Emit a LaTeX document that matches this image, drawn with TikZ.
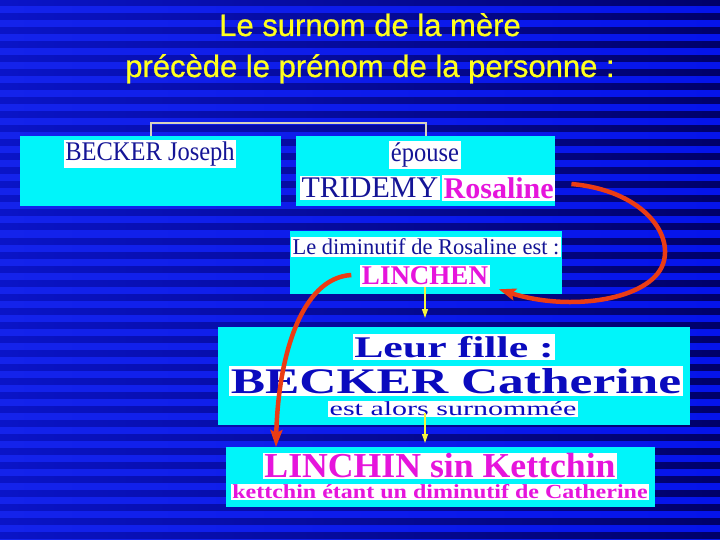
\documentclass[tikz,border=0pt]{standalone}
\usepackage{fontspec}
\setmainfont{Liberation Serif}
\newfontfamily\titlefont[FakeBold=0.8]{Liberation Sans}
\usetikzlibrary{arrows.meta}
\definecolor{cyanbox}{RGB}{0,245,250}
\definecolor{navytxt}{RGB}{20,20,150}
\definecolor{widenavy}{RGB}{10,10,190}
\definecolor{magtxt}{RGB}{230,20,220}
\definecolor{titleyel}{RGB}{255,255,30}
\definecolor{arrred}{RGB}{235,60,20}
\definecolor{bgA}{RGB}{20,35,235}
\definecolor{bgB}{RGB}{5,20,235}
\definecolor{stA}{RGB}{10,20,200}
\definecolor{stB}{RGB}{0,0,105}
\definecolor{brk}{RGB}{215,210,190}
\definecolor{yel}{RGB}{245,245,60}
\newcommand{\fs}[1]{\fontsize{#1}{#1}\selectfont}
\begin{document}
\begin{tikzpicture}[x=1pt,y=-1pt,
  box/.style={fill=cyanbox, draw=none, inner sep=0pt, anchor=north west},
  hl/.style={fill=white, inner xsep=1.5pt, inner ysep=2pt},
  titletxt/.style={text=titleyel, font=\titlefont\fs{31}, anchor=base, inner sep=0pt},
  bracket/.style={draw=brk, line width=2pt},
  yarrow/.style={draw=yel, line width=1.2pt, -{Triangle[length=9pt,width=6pt]}},
  rarrow/.style={draw=arrred, line width=4.5pt, -{Stealth[length=17pt,width=12pt,inset=3pt]}}
]
\useasboundingbox (0,0) rectangle (720,540);
% background
\fill[left color=bgA, right color=bgB] (0,0) rectangle (720,540);
\foreach \y in {0,14,...,532} {
  \fill[left color=stA, right color=stB] (0,\y) rectangle (720,\y+6);
}
% title
\node[titletxt] (t1) at (370,36) {Le surnom de la mère};
\node[titletxt] (t2) at (370,77) {précède le prénom de la personne :};
% boxes
\node[box, minimum width=261pt, minimum height=70pt] (josephbox) at (20,136) {};
\node[box, minimum width=259pt, minimum height=70pt] (epousebox) at (296,136) {};
\node[box, minimum width=272pt, minimum height=63pt] (dimbox) at (290,231) {};
\node[box, minimum width=472pt, minimum height=98pt] (fillebox) at (218,327) {};
\node[box, minimum width=429pt, minimum height=60pt] (linchinbox) at (226,447) {};
% texts
\node[hl, text=navytxt, font=\fs{24.5}] (joseph) at (150,154) {\scalebox{1}[1.1]{BECKER Joseph}};
\node[hl, text=navytxt, font=\fs{24.5}] (epouse) at (425,155) {\scalebox{1}[1.1]{épouse}};
\node[hl, text=navytxt, font=\fs{30}, anchor=east] (tridemy) at (440,188) {TRIDEMY};
\node[hl, text=magtxt, font=\bfseries\fs{30}, anchor=west] (rosaline) at (442,188) {Rosaline};
\node[hl, text=navytxt, font=\fs{22.5}] (dimtxt) at (426,247) {Le diminutif de Rosaline est :};
\node[hl, text=magtxt, font=\bfseries\fs{27}] (linchen) at (425,276) {LINCHEN};
\node[hl, text=widenavy, font=\bfseries\fs{30}] (leur) at (454,347) {\scalebox{1.46}[1]{Leur fille :}};
\node[hl, text=widenavy, font=\bfseries\fs{36}] (catherine) at (456,381) {\scalebox{1.43}[1]{BECKER Catherine}};
\node[hl, inner ysep=0.5pt, text=widenavy, font=\fs{20}] (estalors) at (453,409) {\scalebox{1.5}[1]{est alors surnommée}};
\node[hl, inner ysep=1pt, text=magtxt, font=\bfseries\fs{35}] (linchin) at (440,466) {\scalebox{1.02}[1]{LINCHIN sin Kettchin}};
\node[hl, inner ysep=0.5pt, text=magtxt, font=\bfseries\fs{20}] (ketttxt) at (440,492) {\scalebox{1.2}[1]{kettchin étant un diminutif de Catherine}};
% connectors
\draw[bracket] (josephbox.north) -- ++(0,-13) -| (epousebox.north);
\draw[yarrow, shorten >=9pt] (linchen.south) -- (linchen.south |- fillebox.north);
\draw[yarrow, shorten >=4pt, shorten <=-4pt] (estalors.south -| linchen.south) -- (linchinbox.north -| linchen.south);
\draw[rarrow] ([shift={(16,-4)}]rosaline.east) .. controls (640,190) and (674,232) .. (663,264)
  .. controls (650,300) and (570,312) .. ([shift={(9,2)}]linchen.south east);
\draw[rarrow] ([shift={(-9,-1)}]linchen.west) .. controls (300,278) and (278,360) .. ([xshift=50pt]linchinbox.north west);
\end{tikzpicture}
\end{document}
